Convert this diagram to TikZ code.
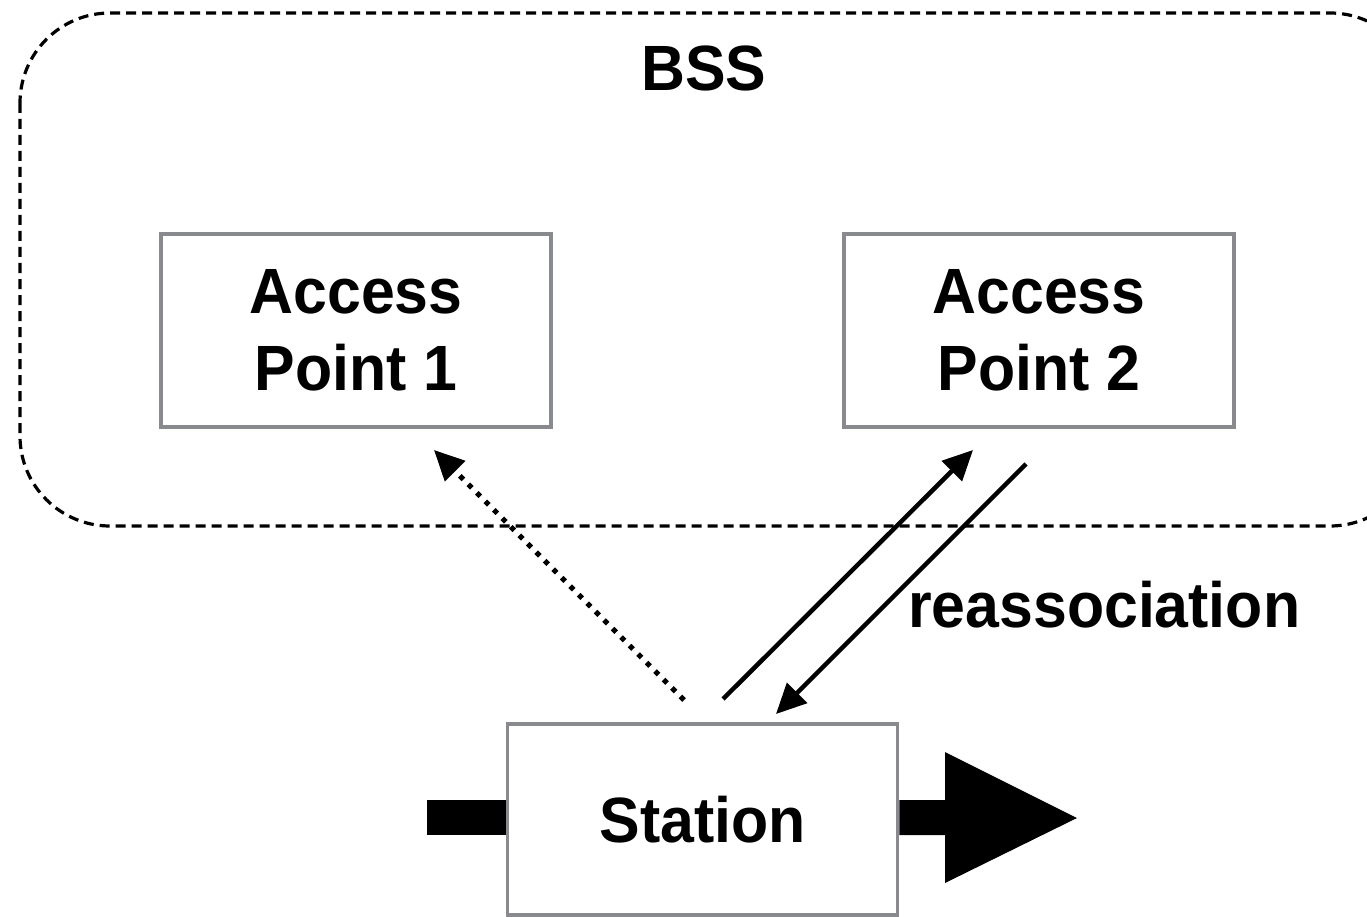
\documentclass[tikz,border=0pt]{standalone}
\usepackage{fontspec}
\setmainfont{Liberation Sans}
\newfontfamily\diagfont[FakeStretch=0.95]{Liberation Sans}
\usetikzlibrary{arrows.meta}
\definecolor{boxgray}{RGB}{136,138,141}
\tikzset{
  apbox/.style={draw=boxgray, line width=3.5pt, fill=white, minimum width=390pt, minimum height=193pt,
    align=center, inner sep=0pt, font=\diagfont\fontsize{64}{77}\selectfont\bfseries},
  label/.style={inner sep=0pt, font=\diagfont\fontsize{64}{77}\selectfont\bfseries},
  link/.style={line width=4.5pt, -{Triangle[length=30pt,width=28pt]}},
  probe/.style={link, line width=5pt, dash pattern=on 5pt off 7pt},
  region/.style={draw=black, line width=3.2pt, dash pattern=on 10pt off 6pt, rounded corners=90pt}
}
\begin{document}
\begin{tikzpicture}[x=1pt,y=-1pt]
\useasboundingbox (0,0) rectangle (1367,917);
% basic service set boundary
\draw[region] (20,13) rectangle (1420,526);
\node[label] (bss) at (704,68) {BSS};
% access points and the roaming station
\node[apbox] (ap1) at (356,330.5) {Access\\Point 1};
\node[apbox] (ap2) at (1039,330.5) {Access\\Point 2};
\node[apbox, minimum height=191pt] (sta) at (702.5,819.5) {\raisebox{-5pt}{Station}};
% direction of travel
\fill (427,800) rectangle (sta.west |- 0,835);
\fill (sta.east |- 0,800) -- (945,800) -- (945,752) -- (1077,818) -- (945,883) -- (945,835) -- (sta.east |- 0,835) -- cycle;
% probing / reassociation exchange
\coordinate (p0) at (684,700);
\coordinate (p1) at (434,450);
\coordinate (r0) at (723,699);
\coordinate (r1) at (973,450);
\coordinate (q0) at (1026,464);
\coordinate (q1) at (776,714);
\draw[probe] (p0) -- (p1);
\draw[link] (r0) -- (r1);
\draw[link] (q0) -- (q1);
\node[label, anchor=base west] (reassoc) at (908,627) {reassociation};
\end{tikzpicture}
\end{document}
